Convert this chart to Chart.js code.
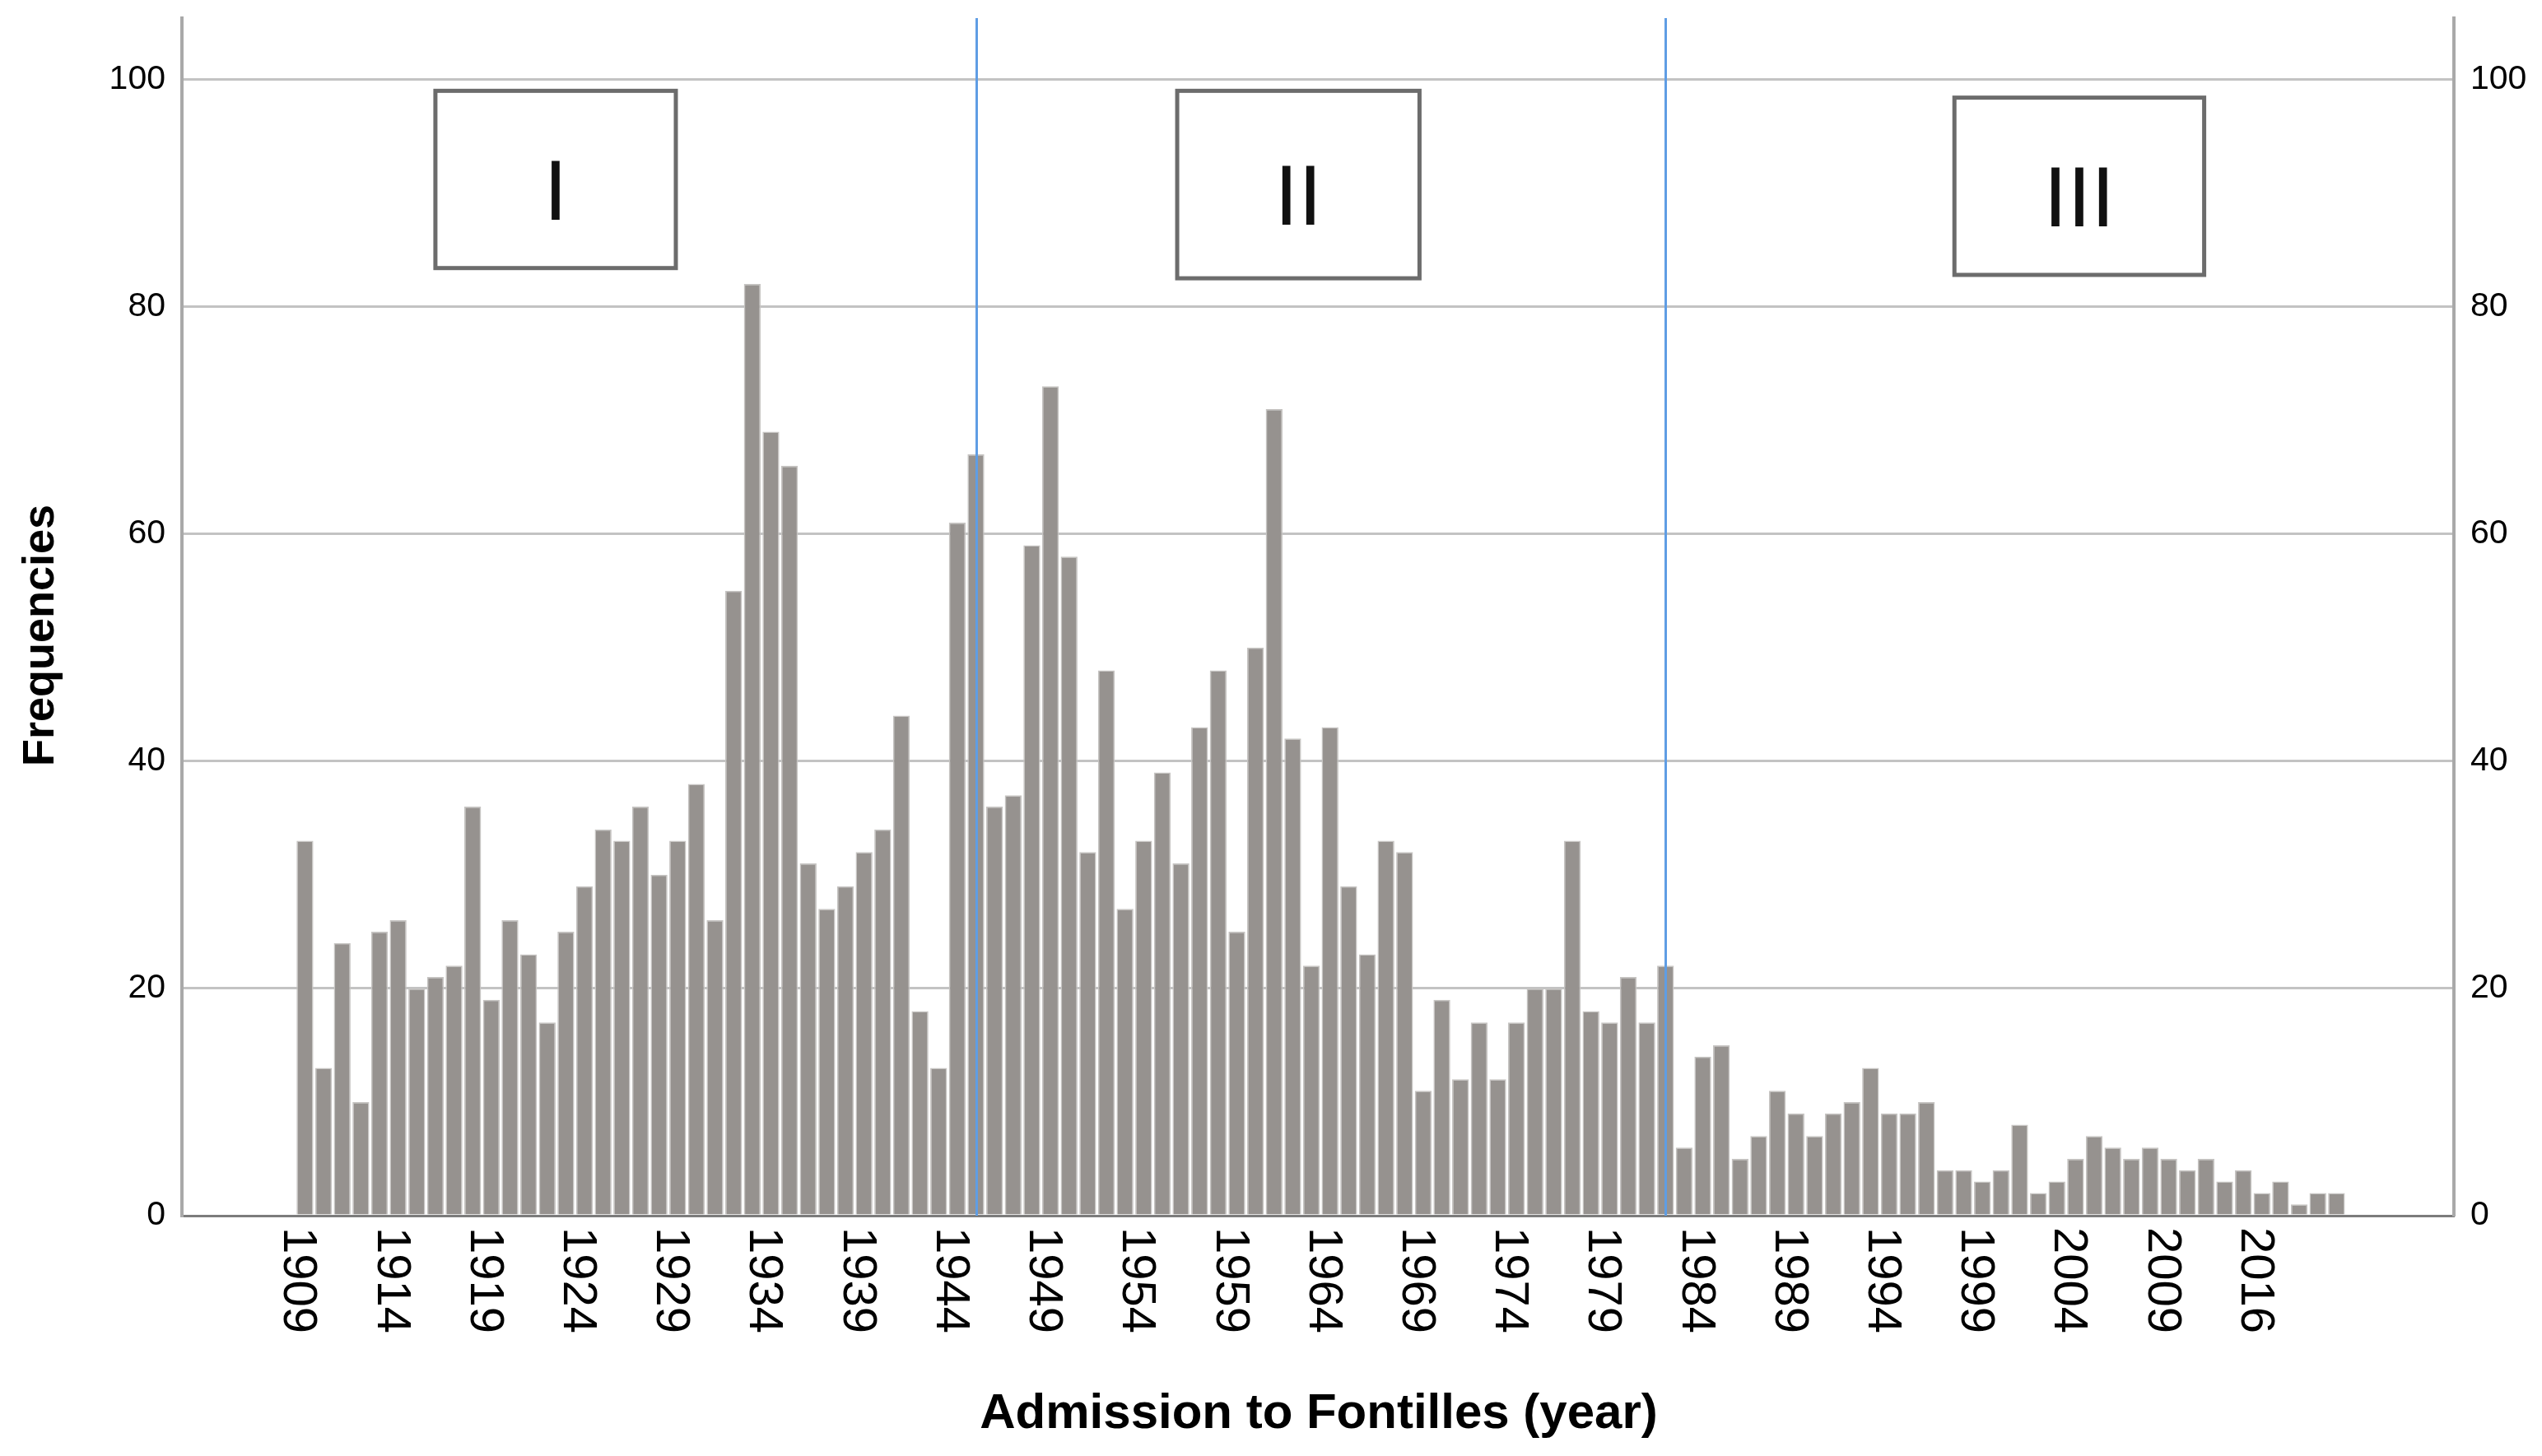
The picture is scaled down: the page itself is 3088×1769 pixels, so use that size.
<!DOCTYPE html>
<html>
<head>
<meta charset="utf-8">
<script src="https://cdn.jsdelivr.net/npm/chart.js@4.4.1/dist/chart.umd.min.js"></script>
<style>
  html, body { margin: 0; padding: 0; background: #fff; }
  canvas { display: block; }
</style>
</head>
<body>
<canvas id="chart" width="3088" height="1769"></canvas>
<script>
// admission years (2010 and 2011 have no bar in the source)
const years = [
  '1909','1910','1911','1912','1913','1914','1915','1916','1917','1918',
  '1919','1920','1921','1922','1923','1924','1925','1926','1927','1928',
  '1929','1930','1931','1932','1933','1934','1935','1936','1937','1938',
  '1939','1940','1941','1942','1943','1944','1945','1946','1947','1948',
  '1949','1950','1951','1952','1953','1954','1955','1956','1957','1958',
  '1959','1960','1961','1962','1963','1964','1965','1966','1967','1968',
  '1969','1970','1971','1972','1973','1974','1975','1976','1977','1978',
  '1979','1980','1981','1982','1983','1984','1985','1986','1987','1988',
  '1989','1990','1991','1992','1993','1994','1995','1996','1997','1998',
  '1999','2000','2001','2002','2003','2004','2005','2006','2007','2008',
  '2009','2012','2013','2014','2015','2016','2017','2018','2019','2020'
];

const frequencies = [
  33, 13, 24, 10, 25, 26, 20, 21, 22, 36,
  19, 26, 23, 17, 25, 29, 34, 33, 36, 30,
  33, 38, 26, 55, 82, 69, 66, 31, 27, 29,
  32, 34, 44, 18, 13, 61, 67, 36, 37, 59,
  73, 58, 32, 48, 27, 33, 39, 31, 43, 48,
  25, 50, 71, 42, 22, 43, 29, 23, 33, 32,
  11, 19, 12, 17, 12, 17, 20, 20, 33, 18,
  17, 21, 17, 22, 6, 14, 15, 5, 7, 11,
  9, 7, 9, 10, 13, 9, 9, 10, 4, 4,
  3, 4, 8, 2, 3, 5, 7, 6, 5, 6,
  5, 4, 5, 3, 4, 2, 3, 1, 2, 2
];

const tickYears = ['1909','1914','1919','1924','1929','1934','1939','1944','1949','1954',
  '1959','1964','1969','1974','1979','1984','1989','1994','1999','2004','2009','2016'];

const yTicks = [0, 20, 40, 60, 80, 100];

// period borders and labels
const periodBreaks = ['1945', '1982'];
const periodBoxes = [
  { label: 'I',   from: 7.0,  to: 19.9,  top: 99.0, bottom: 83.4 },
  { label: 'II',  from: 46.8, to: 59.8,  top: 99.0, bottom: 82.5 },
  { label: 'III', from: 88.5, to: 101.9, top: 98.4, bottom: 82.8 }
];

const FONT = '"Liberation Sans", Arial, sans-serif';

const overlay = {
  id: 'overlay',
  afterDatasetsDraw(chart) {
    const { ctx, chartArea, scales: { x, y } } = chart;
    ctx.save();

    // blue period lines
    ctx.strokeStyle = '#5f9de4';
    ctx.lineWidth = 3;
    periodBreaks.forEach(yr => {
      const px = Math.round(x.getPixelForValue(years.indexOf(yr))) + 0.5;
      ctx.beginPath();
      ctx.moveTo(px, chartArea.top);
      ctx.lineTo(px, chartArea.bottom);
      ctx.stroke();
    });

    // period boxes
    periodBoxes.forEach(b => {
      const l = x.getPixelForValue(b.from), r = x.getPixelForValue(b.to);
      const t = y.getPixelForValue(b.top), btm = y.getPixelForValue(b.bottom);
      ctx.fillStyle = '#fff';
      ctx.fillRect(l, t, r - l, btm - t);
      ctx.strokeStyle = '#6c6c6c';
      ctx.lineWidth = 5;
      ctx.strokeRect(l, t, r - l, btm - t);
      ctx.fillStyle = '#111';
      ctx.font = '104px ' + FONT;
      ctx.textAlign = 'center';
      ctx.textBaseline = 'middle';
      ctx.fillText(b.label, (l + r) / 2, (t + btm) / 2 + 20);
    });

    // x tick labels, rotated clockwise
    ctx.fillStyle = '#000';
    ctx.font = '58px ' + FONT;
    ctx.textAlign = 'left';
    ctx.textBaseline = 'middle';
    tickYears.forEach(t => {
      const px = x.getPixelForValue(years.indexOf(t)) - 9;
      ctx.save();
      ctx.translate(px, chartArea.bottom + 14);
      ctx.rotate(Math.PI / 2);
      ctx.fillText(t, 0, 0);
      ctx.restore();
    });

    // axis titles
    ctx.font = 'bold 60px ' + FONT;
    ctx.textAlign = 'center';
    ctx.fillText('Admission to Fontilles (year)', 1602, 1718);

    ctx.save();
    ctx.font = 'bold 54px ' + FONT;
    ctx.translate(50, 772);
    ctx.rotate(-Math.PI / 2);
    ctx.fillText('Frequencies', 0, 0);
    ctx.restore();

    ctx.restore();
  }
};

const yTickOpts = {
  stepSize: 20,
  includeBounds: false,
  color: '#000',
  padding: 20,
  font: { size: 41, family: FONT }
};

function fixWidth(w) {
  return s => { s.width = w; s.paddingTop = 0; s.paddingBottom = 0; };
}

new Chart(document.getElementById('chart'), {
  type: 'bar',
  data: {
    datasets: [{
      data: frequencies.map((v, i) => ({ x: i, y: v })),
      backgroundColor: '#96928f',
      borderColor: '#c6c4c2',
      borderWidth: 1.5,
      categoryPercentage: 1,
      barPercentage: 0.9
    }]
  },
  options: {
    responsive: false,
    devicePixelRatio: 1,
    animation: false,
    layout: { padding: { top: 22, left: 0, right: 0, bottom: 0 } },
    plugins: { legend: { display: false }, tooltip: { enabled: false } },
    scales: {
      x: {
        type: 'linear',
        min: -6.6,
        max: 115.3,
        offset: false,
        grid: { display: false },
        border: { display: true, color: '#7c7c7c', width: 3 },
        ticks: { display: false },
        afterFit: s => { s.height = 292; s.paddingLeft = 0; s.paddingRight = 0; }
      },
      y: {
        position: 'left',
        min: 0,
        max: 105.4,
        afterBuildTicks: s => { s.ticks = yTicks.map(v => ({ value: v })); },
        ticks: yTickOpts,
        grid: { color: '#c3c3c3', lineWidth: 3, drawTicks: false },
        border: { display: true, color: '#a9a9a9', width: 4 },
        afterFit: fixWidth(221)
      },
      y2: {
        position: 'right',
        min: 0,
        max: 105.4,
        afterBuildTicks: s => { s.ticks = yTicks.map(v => ({ value: v })); },
        ticks: yTickOpts,
        grid: { display: false, drawTicks: false },
        border: { display: true, color: '#a9a9a9', width: 4 },
        afterFit: fixWidth(107)
      }
    }
  },
  plugins: [overlay]
});
</script>
</body>
</html>
